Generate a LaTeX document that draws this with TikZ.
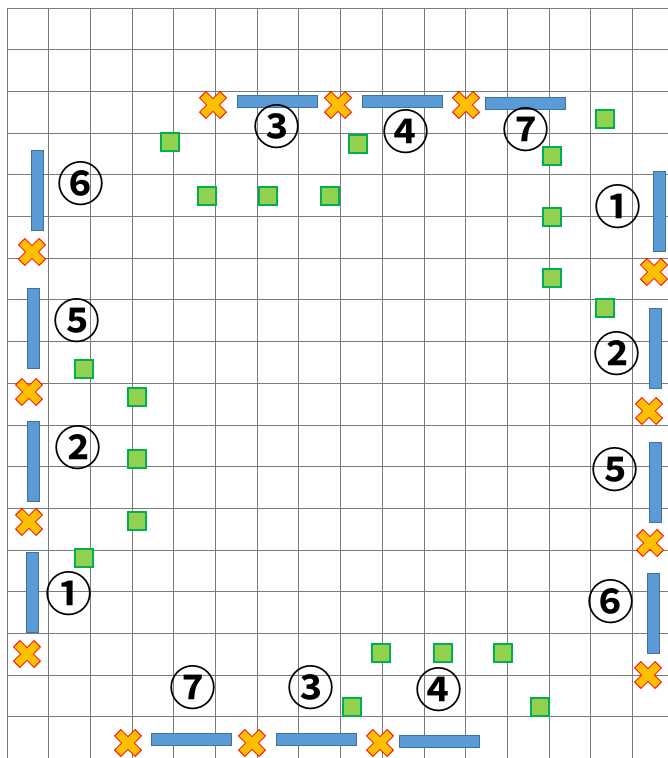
\documentclass[tikz,border=0pt]{standalone}
\usepackage{fontspec}
\newfontfamily\cjk[BoldFont={Noto Sans CJK JP Bold}]{Noto Sans CJK JP}
\definecolor{barblue}{HTML}{5B9BD5}
\definecolor{barline}{HTML}{41719C}
\definecolor{sqfill}{HTML}{92D050}
\definecolor{sqline}{HTML}{00B050}
\definecolor{xfill}{HTML}{FFC000}
\definecolor{xline}{HTML}{FF0000}
\definecolor{gridc}{HTML}{7A7A7A}
\begin{document}
\begin{tikzpicture}[x=1pt,y=-1pt,
  gridline/.style={draw=gridc,line width=1pt},
  hbar/.style={draw=barline,fill=barblue,line width=0.6pt,minimum width=80.4pt,minimum height=12.4pt,inner sep=0pt},
  vbar/.style={draw=barline,fill=barblue,line width=0.6pt,minimum width=12.4pt,minimum height=80.4pt,inner sep=0pt},
  gsq/.style={draw=sqline,fill=sqfill,line width=1.8pt,minimum size=18pt,inner sep=0pt},
  num/.style={font=\cjk\bfseries\fontsize{47}{47}\selectfont,inner sep=0pt},
  xm/.pic={\filldraw[draw=xline,fill=xfill,line width=0.8pt,rotate=45]
    (4.5,4.5)--(4.5,14.5)--(-4.5,14.5)--(-4.5,4.5)--(-14.5,4.5)--(-14.5,-4.5)--(-4.5,-4.5)--(-4.5,-14.5)--(4.5,-14.5)--(4.5,-4.5)--(14.5,-4.5)--(14.5,4.5)--cycle;}
]
\fill[white] (0,0) rectangle (668,758);
\useasboundingbox (0,0) rectangle (668,758);
% grid
\foreach \k in {0,...,15} \draw[gridline] ({7+41.7*\k},8) -- ({7+41.7*\k},758);
\foreach \k in {0,...,17} \draw[gridline] (7,{8+41.7*\k}) -- (668,{8+41.7*\k});
% horizontal bars
\node[hbar] (t3) at (277.5,101.5) {};
\node[hbar] (t4) at (402.5,101.5) {};
\node[hbar] (t7) at (525.5,103) {};
\node[hbar] (b7) at (191.5,739.5) {};
\node[hbar] (b3) at (316.5,739.5) {};
\node[hbar] (b4) at (439.5,741) {};
% vertical bars
\node[vbar] (l6) at (37,190.5) {};
\node[vbar] (l5) at (33,328) {};
\node[vbar] (l2) at (33,461) {};
\node[vbar] (l1) at (32,592.5) {};
\node[vbar] (r1) at (659.5,211.5) {};
\node[vbar] (r2) at (655,348.5) {};
\node[vbar] (r5) at (655,482) {};
\node[vbar] (r6) at (653,613.5) {};
% crosses
\foreach \p [count=\i] in {(213,105),(338,105),(466,105),(32,252),(29,392),(29,522),(27,654),(654,272),(649,411),(650,543),(648,675),(128,743),(252,743),(380,743)}
  \pic (x\i) at \p {xm};
% green squares
\foreach \p [count=\i] in {(170,142),(207,196),(268,196),(330,196),(358,144),(605,119),(552,156),(552,217),(552,278),(605,308),(84,369),(137,397),(137,459),(137,521),(84,558),(381,653),(443,653),(503,653),(352,707),(540,707)}
  \node[gsq] (s\i) at \p {};
% numbers
\node[num] (n1) at (277,127) {③};
\node[num] (n2) at (406,132) {④};
\node[num] (n3) at (526,130) {⑦};
\node[num] (n4) at (81,184) {⑥};
\node[num] (n5) at (618,207) {①};
\node[num] (n6) at (77,321) {⑤};
\node[num] (n7) at (617,354) {②};
\node[num] (n8) at (78,448) {②};
\node[num] (n9) at (615,470) {⑤};
\node[num] (n10) at (69,594) {①};
\node[num] (n11) at (611,602) {⑥};
\node[num] (n12) at (193,688) {⑦};
\node[num] (n13) at (311,688) {③};
\node[num] (n14) at (439,690) {④};
\end{tikzpicture}
\end{document}
